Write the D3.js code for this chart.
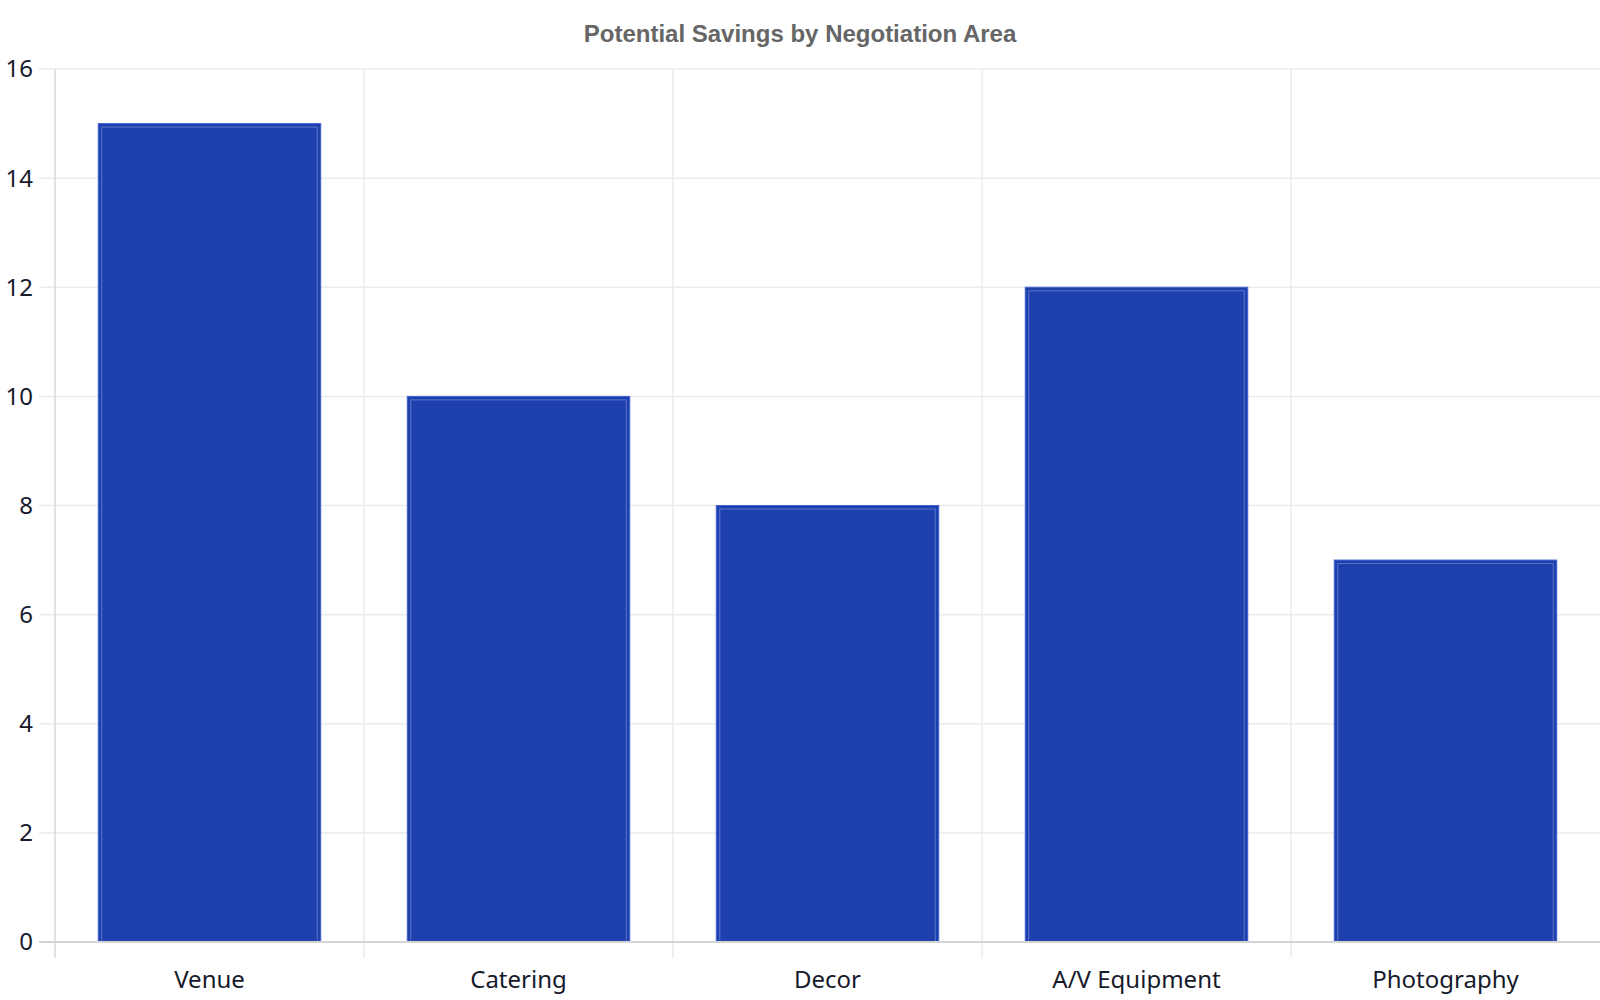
<!DOCTYPE html>
<html>
<head>
<meta charset="utf-8">
<script src="https://cdn.jsdelivr.net/npm/d3@7"></script>
<style>
  html, body { margin: 0; padding: 0; background: #fff; }
  svg { display: block; }
</style>
</head>
<body>
<svg id="chart"></svg>
<script>
// Chart data
var categories = ["Venue", "Catering", "Decor", "A/V Equipment", "Photography"];
var savings = [15, 10, 8, 12, 7];
var yTicks = [0, 2, 4, 6, 8, 10, 12, 14, 16];

var width = 1600, height = 1000;
var margin = { top: 69, right: 0, bottom: 58, left: 55 };

var svg = d3.select("#chart")
  .attr("width", width)
  .attr("height", height);

var x = d3.scaleBand()
  .domain(categories)
  .range([margin.left, width - margin.right])
  .paddingInner(0.28)
  .paddingOuter(0.14);

var y = d3.scaleLinear()
  .domain([0, 16])
  .range([height - margin.bottom, margin.top]);

// Title
svg.append("text")
  .attr("x", 800)
  .attr("y", 42)
  .attr("text-anchor", "middle")
  .style("font-family", "'Liberation Sans', Arial, sans-serif")
  .style("font-weight", "bold")
  .style("font-size", "24px")
  .style("fill", "#666")
  .text("Potential Savings by Negotiation Area");

// Horizontal grid (ticks extend left of the axis)
svg.append("g")
  .selectAll("line")
  .data(yTicks.filter(d => d > 0))
  .join("line")
    .attr("x1", margin.left - 16)
    .attr("x2", width - margin.right)
    .attr("y1", d => y(d))
    .attr("y2", d => y(d))
    .attr("stroke", "#ebebeb")
    .attr("stroke-width", 1.5);

// Vertical grid at band boundaries (ticks extend below the axis)
var step = x.step();
var bounds = d3.range(categories.length).map(i => margin.left + i * step).slice(1);
svg.append("g")
  .selectAll("line")
  .data(bounds)
  .join("line")
    .attr("x1", d => d)
    .attr("x2", d => d)
    .attr("y1", margin.top)
    .attr("y2", height - margin.bottom + 16)
    .attr("stroke", "#ebebeb")
    .attr("stroke-width", 1.5);

// Bars: fill plus an outer edge and a faint inner outline
var bars = svg.append("g")
  .selectAll("g")
  .data(categories.map((c, i) => ({ c: c, v: savings[i] })))
  .join("g");

bars.append("rect")
  .attr("x", d => x(d.c))
  .attr("y", d => y(d.v))
  .attr("width", x.bandwidth())
  .attr("height", d => y(0) - y(d.v))
  .attr("fill", "#1e40af")
  .attr("stroke", "#4262d2")
  .attr("stroke-width", 1);

bars.append("rect")
  .attr("x", d => x(d.c) + 3.5)
  .attr("y", d => y(d.v) + 3.5)
  .attr("width", x.bandwidth() - 7)
  .attr("height", d => y(0) - y(d.v) - 3.5)
  .attr("fill", "none")
  .attr("stroke", "rgba(255,255,255,0.28)")
  .attr("stroke-width", 1);

// Axis lines
svg.append("line")
  .attr("x1", margin.left).attr("x2", margin.left)
  .attr("y1", margin.top).attr("y2", height - margin.bottom + 16)
  .attr("stroke", "#d9d9d9")
  .attr("stroke-width", 1.5);

svg.append("line")
  .attr("x1", margin.left - 16).attr("x2", width - margin.right)
  .attr("y1", y(0)).attr("y2", y(0))
  .attr("stroke", "#d4d4d4")
  .attr("stroke-width", 2);

// Y tick labels
svg.append("g")
  .selectAll("text")
  .data(yTicks)
  .join("text")
    .attr("x", 33)
    .attr("y", d => y(d))
    .attr("dy", "0.35em")
    .attr("text-anchor", "end")
    .style("font-family", "'Noto Sans', 'Open Sans', sans-serif")
    .style("font-size", "24px")
    .style("fill", "#161a2b")
    .text(d => d);

// X tick labels
svg.append("g")
  .selectAll("text")
  .data(categories)
  .join("text")
    .attr("x", d => x(d) + x.bandwidth() / 2)
    .attr("y", 988)
    .attr("text-anchor", "middle")
    .style("font-family", "'Noto Sans', 'Open Sans', sans-serif")
    .style("font-size", "24px")
    .style("fill", "#161a2b")
    .text(d => d);
</script>
</body>
</html>
